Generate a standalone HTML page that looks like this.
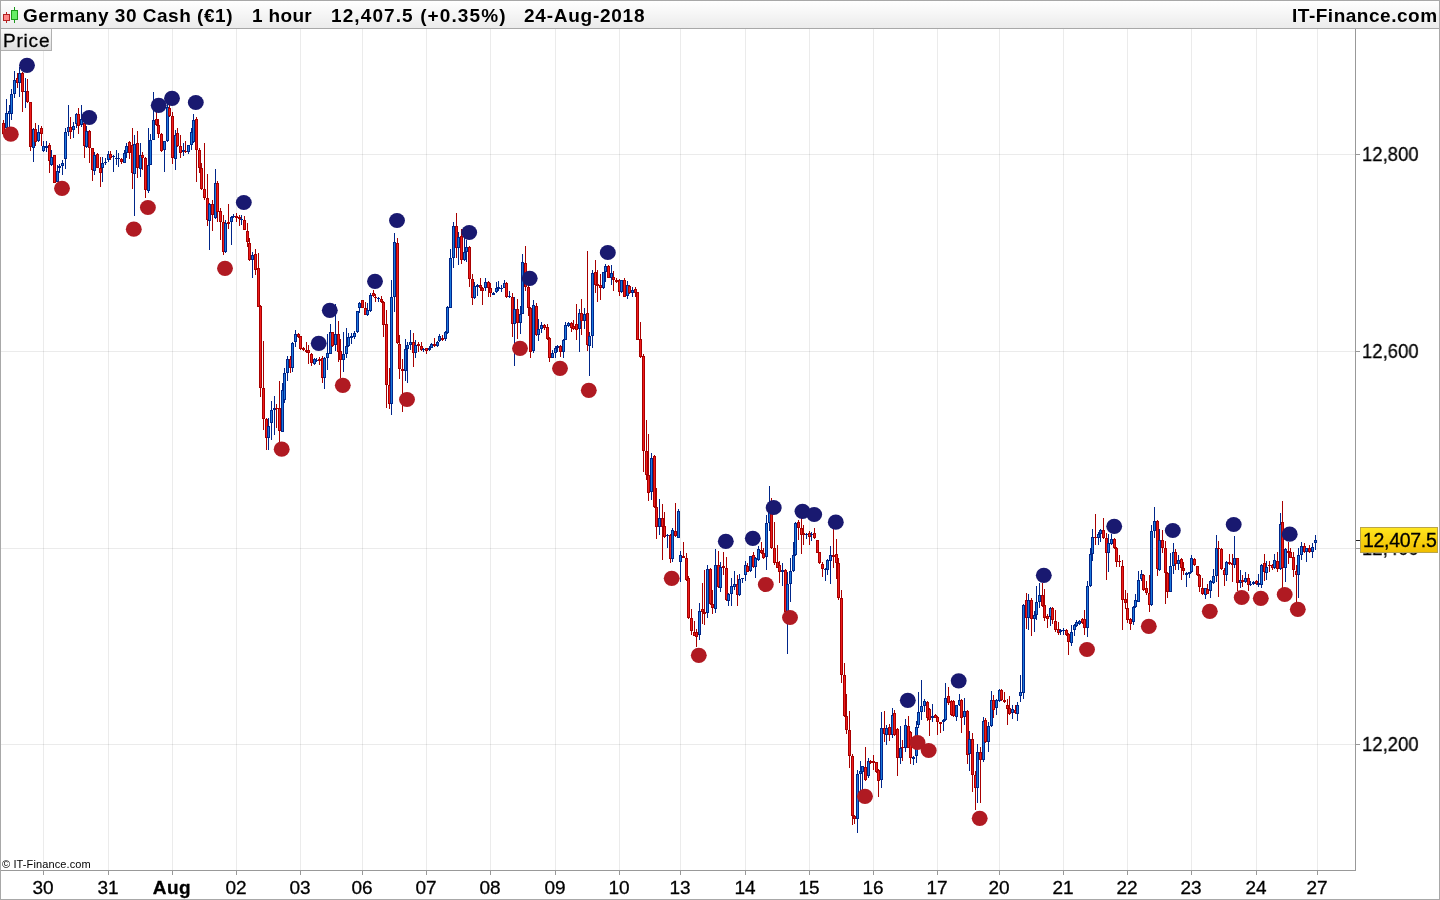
<!DOCTYPE html>
<html><head><meta charset="utf-8"><title>Germany 30 Cash</title>
<style>
html,body{margin:0;padding:0;background:#fff;}
body{width:1440px;height:900px;position:relative;overflow:hidden;font-family:"Liberation Sans","DejaVu Sans",sans-serif;color:#000;}
#frame{position:absolute;left:0;top:0;width:1438px;height:898px;border:1px solid #a8a8a8;pointer-events:none;}
#hdr{position:absolute;left:1px;top:1px;width:1438px;height:27px;background:linear-gradient(#ffffff,#ebebeb);border-bottom:1px solid #a8a8a8;}
#hdr span{will-change:transform;position:absolute;top:4px;font-weight:bold;font-size:19px;line-height:22px;white-space:pre;}
#price{position:absolute;left:1px;top:29px;width:50px;height:21px;background:linear-gradient(#fbfbfb,#dedede);border-right:1px solid #b0b0b0;border-bottom:1px solid #b0b0b0;font-size:19px;line-height:22px;}
#price span{will-change:transform;position:absolute;left:2px;top:1px;letter-spacing:0.8px;-webkit-text-stroke:0.3px #000}
.r{fill:#a80000}.b{fill:#00268a}.R{fill:#ee1c1c}.B{fill:#1c78dc}
.xl{will-change:transform;-webkit-text-stroke:0.3px #000;position:absolute;top:877px;width:60px;text-align:center;font-size:19px;line-height:22px;}
.bold{font-weight:bold;letter-spacing:0.5px}
.yl{will-change:transform;-webkit-text-stroke:0.3px #000;position:absolute;left:1362px;font-size:19.5px;line-height:22px;transform:scaleX(0.95);transform-origin:0 0;}
#cur{position:absolute;left:1360px;top:527px;width:76px;height:24px;border:1px solid #b9a44a;background:linear-gradient(#ffe61e,#f0be00);font-size:19.5px;line-height:24px;}
#cur span{will-change:transform;-webkit-text-stroke:0.3px #000;position:absolute;left:2px;top:0;letter-spacing:-0.3px}
#copy{will-change:transform;position:absolute;left:2px;top:857px;font-size:11px;line-height:14px;letter-spacing:0.12px}
</style></head><body>
<svg width="1440" height="900" viewBox="0 0 1440 900" style="position:absolute;left:0;top:0"><path d="M43.5 29V870M108.5 29V870M172.5 29V870M236.5 29V870M300.5 29V870M362.5 29V870M426.5 29V870M490.5 29V870M555.5 29V870M619.5 29V870M680.5 29V870M745.5 29V870M809.5 29V870M873.5 29V870M937.5 29V870M999.5 29V870M1063.5 29V870M1127.5 29V870M1191.5 29V870M1256.5 29V870M1317.5 29V870" stroke="rgba(0,0,0,0.08)" fill="none"/><path d="M1 154.5H1355M1 351.5H1355M1 548.5H1355M1 744.5H1355" stroke="rgba(0,0,0,0.08)" fill="none"/>
<g shape-rendering="crispEdges"><path class="r" d="M3 120h1v14h-1zM2 123h3v11h-3z"/><path class="R" d="M3 124h1v9h-1z"/><path class="b" d="M6 99h1v29h-1zM5 113h3v15h-3z"/><path class="B" d="M6 114h1v13h-1z"/><path class="b" d="M9 105h1v22h-1zM8 111h3v3h-3z"/><path class="B" d="M9 112h1v1h-1z"/><path class="b" d="M11 89h1v31h-1zM10 94h3v20h-3z"/><path class="B" d="M11 95h1v18h-1z"/><path class="b" d="M14 71h1v27h-1zM13 80h3v14h-3z"/><path class="B" d="M14 81h1v12h-1z"/><path class="r" d="M17 73h1v15h-1zM16 78h3v5h-3z"/><path class="R" d="M17 79h1v3h-1z"/><path class="b" d="M19 67h1v30h-1zM18 73h3v10h-3z"/><path class="B" d="M19 74h1v8h-1z"/><path class="r" d="M22 72h1v40h-1zM21 73h3v19h-3z"/><path class="R" d="M22 74h1v17h-1z"/><path class="b" d="M25 78h1v30h-1zM24 91h3v1h-3z"/><path class="r" d="M27 79h1v24h-1zM26 91h3v11h-3z"/><path class="R" d="M27 92h1v9h-1z"/><path class="r" d="M30 102h1v49h-1zM29 102h3v45h-3z"/><path class="R" d="M30 103h1v43h-1z"/><path class="b" d="M33 128h1v34h-1zM32 129h3v19h-3z"/><path class="B" d="M33 130h1v17h-1z"/><path class="r" d="M35 123h1v23h-1zM34 129h3v13h-3z"/><path class="R" d="M35 130h1v11h-1z"/><path class="b" d="M38 125h1v17h-1zM37 132h3v9h-3z"/><path class="B" d="M38 133h1v7h-1z"/><path class="r" d="M41 126h1v20h-1zM40 128h3v6h-3z"/><path class="R" d="M41 129h1v4h-1z"/><path class="b" d="M43 141h1v11h-1zM42 146h3v5h-3z"/><path class="B" d="M43 147h1v3h-1z"/><path class="b" d="M46 141h1v11h-1zM45 146h3v2h-3z"/><path class="r" d="M49 143h1v30h-1zM48 145h3v16h-3z"/><path class="R" d="M49 146h1v14h-1z"/><path class="b" d="M51 150h1v16h-1zM50 157h3v8h-3z"/><path class="B" d="M51 158h1v6h-1z"/><path class="r" d="M54 155h1v28h-1zM53 155h3v28h-3z"/><path class="R" d="M54 156h1v26h-1z"/><path class="b" d="M57 165h1v17h-1zM56 171h3v11h-3z"/><path class="B" d="M57 172h1v9h-1z"/><path class="b" d="M59 164h1v9h-1zM58 166h3v2h-3z"/><path class="b" d="M62 160h1v15h-1zM61 163h3v3h-3z"/><path class="B" d="M62 164h1v1h-1z"/><path class="b" d="M65 128h1v41h-1zM64 132h3v27h-3z"/><path class="B" d="M65 133h1v25h-1z"/><path class="b" d="M68 105h1v31h-1zM67 127h3v5h-3z"/><path class="B" d="M68 128h1v3h-1z"/><path class="r" d="M70 117h1v22h-1zM69 127h3v5h-3z"/><path class="R" d="M70 128h1v3h-1z"/><path class="b" d="M73 122h1v16h-1zM72 126h3v4h-3z"/><path class="B" d="M73 127h1v2h-1z"/><path class="b" d="M76 113h1v15h-1zM75 114h3v10h-3z"/><path class="B" d="M76 115h1v8h-1z"/><path class="r" d="M78 108h1v26h-1zM77 114h3v12h-3z"/><path class="R" d="M78 115h1v10h-1z"/><path class="b" d="M81 105h1v22h-1zM80 119h3v6h-3z"/><path class="B" d="M81 120h1v4h-1z"/><path class="r" d="M84 122h1v36h-1zM83 123h3v23h-3z"/><path class="R" d="M84 124h1v21h-1z"/><path class="b" d="M86 126h1v22h-1zM85 131h3v16h-3z"/><path class="B" d="M86 132h1v14h-1z"/><path class="r" d="M89 130h1v33h-1zM88 131h3v17h-3z"/><path class="R" d="M89 132h1v15h-1z"/><path class="r" d="M92 148h1v33h-1zM91 148h3v22h-3z"/><path class="R" d="M92 149h1v20h-1z"/><path class="b" d="M94 152h1v23h-1zM93 155h3v16h-3z"/><path class="B" d="M94 156h1v14h-1z"/><path class="r" d="M97 153h1v15h-1zM96 154h3v14h-3z"/><path class="R" d="M97 155h1v12h-1z"/><path class="r" d="M100 157h1v30h-1zM99 168h3v5h-3z"/><path class="R" d="M100 169h1v3h-1z"/><path class="b" d="M102 157h1v25h-1zM101 163h3v5h-3z"/><path class="B" d="M102 164h1v3h-1z"/><path class="b" d="M105 158h1v7h-1zM104 162h3v1h-3z"/><path class="b" d="M108 151h1v11h-1zM107 154h3v6h-3z"/><path class="B" d="M108 155h1v4h-1z"/><path class="r" d="M110 151h1v9h-1zM109 154h3v4h-3z"/><path class="R" d="M110 155h1v2h-1z"/><path class="b" d="M113 155h1v17h-1zM112 156h3v1h-3z"/><path class="b" d="M116 150h1v15h-1zM115 158h3v1h-3z"/><path class="b" d="M118 153h1v14h-1zM117 158h3v1h-3z"/><path class="r" d="M121 158h1v6h-1zM120 159h3v3h-3z"/><path class="R" d="M121 160h1v1h-1z"/><path class="b" d="M124 150h1v13h-1zM123 153h3v10h-3z"/><path class="B" d="M124 154h1v8h-1z"/><path class="b" d="M126 143h1v15h-1zM125 146h3v7h-3z"/><path class="B" d="M126 147h1v5h-1z"/><path class="r" d="M129 141h1v18h-1zM128 142h3v11h-3z"/><path class="R" d="M129 143h1v9h-1z"/><path class="r" d="M132 128h1v61h-1zM131 145h3v28h-3z"/><path class="R" d="M132 146h1v26h-1z"/><path class="b" d="M134 135h1v81h-1zM133 144h3v30h-3z"/><path class="B" d="M134 145h1v28h-1z"/><path class="r" d="M137 131h1v47h-1zM136 143h3v25h-3z"/><path class="R" d="M137 144h1v23h-1z"/><path class="b" d="M140 143h1v34h-1zM139 155h3v14h-3z"/><path class="B" d="M140 156h1v12h-1z"/><path class="r" d="M142 152h1v18h-1zM141 155h3v3h-3z"/><path class="R" d="M142 156h1v1h-1z"/><path class="r" d="M145 157h1v41h-1zM144 158h3v32h-3z"/><path class="R" d="M145 159h1v30h-1z"/><path class="b" d="M148 128h1v65h-1zM147 165h3v26h-3z"/><path class="B" d="M148 166h1v24h-1z"/><path class="b" d="M150 134h1v31h-1zM149 140h3v25h-3z"/><path class="B" d="M150 141h1v23h-1z"/><path class="b" d="M153 92h1v48h-1zM152 120h3v20h-3z"/><path class="B" d="M153 121h1v18h-1z"/><path class="r" d="M156 105h1v21h-1zM155 119h3v6h-3z"/><path class="R" d="M156 120h1v4h-1z"/><path class="r" d="M158 119h1v19h-1zM157 125h3v9h-3z"/><path class="R" d="M158 126h1v7h-1z"/><path class="r" d="M161 133h1v19h-1zM160 134h3v17h-3z"/><path class="R" d="M161 135h1v15h-1z"/><path class="b" d="M164 141h1v31h-1zM163 141h3v9h-3z"/><path class="B" d="M164 142h1v7h-1z"/><path class="b" d="M167 100h1v42h-1zM166 107h3v34h-3z"/><path class="B" d="M167 108h1v32h-1z"/><path class="r" d="M169 105h1v12h-1zM168 108h3v8h-3z"/><path class="R" d="M169 109h1v6h-1z"/><path class="r" d="M172 112h1v52h-1zM171 116h3v42h-3z"/><path class="R" d="M172 117h1v40h-1z"/><path class="b" d="M175 130h1v40h-1zM174 135h3v24h-3z"/><path class="B" d="M175 136h1v22h-1z"/><path class="r" d="M177 128h1v19h-1zM176 133h3v13h-3z"/><path class="R" d="M177 134h1v11h-1z"/><path class="r" d="M180 135h1v23h-1zM179 146h3v7h-3z"/><path class="R" d="M180 147h1v5h-1z"/><path class="b" d="M183 143h1v13h-1zM182 150h3v2h-3z"/><path class="r" d="M185 141h1v12h-1zM184 151h3v1h-3z"/><path class="b" d="M188 145h1v9h-1zM187 145h3v7h-3z"/><path class="B" d="M188 146h1v5h-1z"/><path class="b" d="M191 128h1v22h-1zM190 132h3v13h-3z"/><path class="B" d="M191 133h1v11h-1z"/><path class="b" d="M193 114h1v29h-1zM192 120h3v22h-3z"/><path class="B" d="M193 121h1v20h-1z"/><path class="r" d="M196 117h1v65h-1zM195 119h3v31h-3z"/><path class="R" d="M196 120h1v29h-1z"/><path class="r" d="M199 148h1v25h-1zM198 150h3v18h-3z"/><path class="R" d="M199 151h1v16h-1z"/><path class="r" d="M201 163h1v27h-1zM200 168h3v21h-3z"/><path class="R" d="M201 169h1v19h-1z"/><path class="r" d="M204 143h1v57h-1zM203 189h3v9h-3z"/><path class="R" d="M204 190h1v7h-1z"/><path class="r" d="M207 174h1v52h-1zM206 198h3v22h-3z"/><path class="R" d="M207 199h1v20h-1z"/><path class="b" d="M209 203h1v47h-1zM208 204h3v17h-3z"/><path class="B" d="M209 205h1v15h-1z"/><path class="r" d="M212 200h1v31h-1zM211 204h3v11h-3z"/><path class="R" d="M212 205h1v9h-1z"/><path class="b" d="M215 169h1v50h-1zM214 183h3v35h-3z"/><path class="B" d="M215 184h1v33h-1z"/><path class="r" d="M217 181h1v41h-1zM216 183h3v29h-3z"/><path class="R" d="M217 184h1v27h-1z"/><path class="r" d="M220 208h1v32h-1zM219 211h3v11h-3z"/><path class="R" d="M220 212h1v9h-1z"/><path class="r" d="M223 215h1v40h-1zM222 222h3v30h-3z"/><path class="R" d="M223 223h1v28h-1z"/><path class="b" d="M225 220h1v33h-1zM224 223h3v29h-3z"/><path class="B" d="M225 224h1v27h-1z"/><path class="r" d="M228 204h1v25h-1zM227 222h3v2h-3z"/><path class="b" d="M231 216h1v29h-1zM230 217h3v5h-3z"/><path class="B" d="M231 218h1v3h-1z"/><path class="b" d="M233 214h1v4h-1zM232 216h3v1h-3z"/><path class="r" d="M236 213h1v9h-1zM235 216h3v2h-3z"/><path class="r" d="M239 215h1v11h-1zM238 217h3v2h-3z"/><path class="b" d="M241 215h1v10h-1zM240 219h3v1h-3z"/><path class="r" d="M244 216h1v14h-1zM243 220h3v10h-3z"/><path class="R" d="M244 221h1v8h-1z"/><path class="r" d="M247 223h1v24h-1zM246 231h3v11h-3z"/><path class="R" d="M247 232h1v9h-1z"/><path class="r" d="M249 238h1v23h-1zM248 243h3v17h-3z"/><path class="R" d="M249 244h1v15h-1z"/><path class="b" d="M252 252h1v26h-1zM251 255h3v5h-3z"/><path class="B" d="M252 256h1v3h-1z"/><path class="r" d="M255 249h1v26h-1zM254 254h3v16h-3z"/><path class="R" d="M255 255h1v14h-1z"/><path class="r" d="M258 253h1v54h-1zM257 268h3v39h-3z"/><path class="R" d="M258 269h1v37h-1z"/><path class="r" d="M260 305h1v92h-1zM259 306h3v82h-3z"/><path class="R" d="M260 307h1v80h-1z"/><path class="r" d="M263 341h1v89h-1zM262 388h3v31h-3z"/><path class="R" d="M263 389h1v29h-1z"/><path class="r" d="M266 418h1v32h-1zM265 419h3v19h-3z"/><path class="R" d="M266 420h1v17h-1z"/><path class="b" d="M268 418h1v32h-1zM267 426h3v12h-3z"/><path class="B" d="M268 427h1v10h-1z"/><path class="b" d="M271 401h1v39h-1zM270 410h3v13h-3z"/><path class="B" d="M271 411h1v11h-1z"/><path class="b" d="M274 396h1v39h-1zM273 408h3v2h-3z"/><path class="r" d="M276 404h1v24h-1zM275 408h3v1h-3z"/><path class="r" d="M279 381h1v61h-1zM278 408h3v23h-3z"/><path class="R" d="M279 409h1v21h-1z"/><path class="b" d="M282 383h1v49h-1zM281 390h3v42h-3z"/><path class="B" d="M282 391h1v40h-1z"/><path class="b" d="M284 368h1v35h-1zM283 373h3v27h-3z"/><path class="B" d="M284 374h1v25h-1z"/><path class="b" d="M287 356h1v25h-1zM286 359h3v14h-3z"/><path class="B" d="M287 360h1v12h-1z"/><path class="r" d="M290 356h1v17h-1zM289 359h3v9h-3z"/><path class="R" d="M290 360h1v7h-1z"/><path class="b" d="M292 342h1v30h-1zM291 343h3v25h-3z"/><path class="B" d="M292 344h1v23h-1z"/><path class="b" d="M295 330h1v17h-1zM294 334h3v8h-3z"/><path class="B" d="M295 335h1v6h-1z"/><path class="r" d="M298 333h1v5h-1zM297 334h3v3h-3z"/><path class="R" d="M298 335h1v1h-1z"/><path class="r" d="M300 336h1v14h-1zM299 336h3v13h-3z"/><path class="R" d="M300 337h1v11h-1z"/><path class="r" d="M303 347h1v4h-1zM302 348h3v2h-3z"/><path class="r" d="M306 342h1v11h-1zM305 350h3v2h-3z"/><path class="r" d="M308 345h1v19h-1zM307 350h3v3h-3z"/><path class="R" d="M308 351h1v1h-1z"/><path class="r" d="M311 353h1v13h-1zM310 354h3v9h-3z"/><path class="R" d="M311 355h1v7h-1z"/><path class="b" d="M314 358h1v7h-1zM313 359h3v5h-3z"/><path class="B" d="M314 360h1v3h-1z"/><path class="b" d="M316 358h1v4h-1zM315 360h3v1h-3z"/><path class="r" d="M319 357h1v8h-1zM318 359h3v2h-3z"/><path class="r" d="M322 356h1v27h-1zM321 358h3v20h-3z"/><path class="R" d="M322 359h1v18h-1z"/><path class="b" d="M324 357h1v32h-1zM323 358h3v20h-3z"/><path class="B" d="M324 359h1v18h-1z"/><path class="b" d="M327 334h1v36h-1zM326 353h3v5h-3z"/><path class="B" d="M327 354h1v3h-1z"/><path class="b" d="M330 324h1v30h-1zM329 332h3v22h-3z"/><path class="B" d="M330 333h1v20h-1z"/><path class="r" d="M332 332h1v15h-1zM331 332h3v14h-3z"/><path class="R" d="M332 333h1v12h-1z"/><path class="b" d="M335 304h1v47h-1zM334 334h3v11h-3z"/><path class="B" d="M335 335h1v9h-1z"/><path class="r" d="M338 321h1v41h-1zM337 334h3v18h-3z"/><path class="R" d="M338 335h1v16h-1z"/><path class="r" d="M340 339h1v39h-1zM339 351h3v9h-3z"/><path class="R" d="M340 352h1v7h-1z"/><path class="b" d="M343 332h1v40h-1zM342 354h3v6h-3z"/><path class="B" d="M343 355h1v4h-1z"/><path class="b" d="M346 328h1v30h-1zM345 346h3v8h-3z"/><path class="B" d="M346 347h1v6h-1z"/><path class="b" d="M348 333h1v14h-1zM347 337h3v9h-3z"/><path class="B" d="M348 338h1v7h-1z"/><path class="b" d="M351 333h1v11h-1zM350 336h3v2h-3z"/><path class="b" d="M354 331h1v8h-1zM353 333h3v4h-3z"/><path class="B" d="M354 334h1v2h-1z"/><path class="b" d="M357 311h1v22h-1zM356 311h3v21h-3z"/><path class="B" d="M357 312h1v19h-1z"/><path class="b" d="M359 302h1v11h-1zM358 303h3v5h-3z"/><path class="B" d="M359 304h1v3h-1z"/><path class="r" d="M362 300h1v8h-1zM361 300h3v8h-3z"/><path class="R" d="M362 301h1v6h-1z"/><path class="r" d="M365 302h1v13h-1zM364 308h3v7h-3z"/><path class="R" d="M365 309h1v5h-1z"/><path class="b" d="M367 303h1v13h-1zM366 310h3v5h-3z"/><path class="B" d="M367 311h1v3h-1z"/><path class="b" d="M370 293h1v19h-1zM369 295h3v16h-3z"/><path class="B" d="M370 296h1v14h-1z"/><path class="r" d="M373 290h1v7h-1zM372 293h3v3h-3z"/><path class="R" d="M373 294h1v1h-1z"/><path class="r" d="M375 294h1v8h-1zM374 297h3v1h-3z"/><path class="b" d="M378 297h1v5h-1zM377 298h3v1h-3z"/><path class="r" d="M381 296h1v7h-1zM380 299h3v3h-3z"/><path class="R" d="M381 300h1v1h-1z"/><path class="r" d="M383 301h1v36h-1zM382 302h3v23h-3z"/><path class="R" d="M383 303h1v21h-1z"/><path class="r" d="M386 310h1v98h-1zM385 324h3v61h-3z"/><path class="R" d="M386 325h1v59h-1z"/><path class="r" d="M389 368h1v41h-1zM388 385h3v19h-3z"/><path class="R" d="M389 386h1v17h-1z"/><path class="b" d="M391 280h1v135h-1zM390 297h3v107h-3z"/><path class="B" d="M391 298h1v105h-1z"/><path class="b" d="M394 233h1v79h-1zM393 242h3v55h-3z"/><path class="B" d="M394 243h1v53h-1z"/><path class="r" d="M397 238h1v106h-1zM396 243h3v100h-3z"/><path class="R" d="M397 244h1v98h-1z"/><path class="r" d="M399 335h1v44h-1zM398 344h3v25h-3z"/><path class="R" d="M399 345h1v23h-1z"/><path class="r" d="M402 359h1v53h-1zM401 369h3v2h-3z"/><path class="b" d="M405 339h1v42h-1zM404 349h3v22h-3z"/><path class="B" d="M405 350h1v20h-1z"/><path class="b" d="M407 342h1v41h-1zM406 345h3v4h-3z"/><path class="B" d="M407 346h1v2h-1z"/><path class="b" d="M410 330h1v20h-1zM409 342h3v3h-3z"/><path class="B" d="M410 343h1v1h-1z"/><path class="r" d="M413 333h1v34h-1zM412 342h3v11h-3z"/><path class="R" d="M413 343h1v9h-1z"/><path class="b" d="M415 340h1v18h-1zM414 345h3v8h-3z"/><path class="B" d="M415 346h1v6h-1z"/><path class="r" d="M418 342h1v10h-1zM417 344h3v2h-3z"/><path class="r" d="M421 342h1v9h-1zM420 346h3v4h-3z"/><path class="R" d="M421 347h1v2h-1z"/><path class="b" d="M423 348h1v4h-1zM422 349h3v1h-3z"/><path class="r" d="M426 348h1v6h-1zM425 348h3v3h-3z"/><path class="R" d="M426 349h1v1h-1z"/><path class="b" d="M429 346h1v5h-1zM428 348h3v2h-3z"/><path class="b" d="M431 343h1v5h-1zM430 344h3v4h-3z"/><path class="B" d="M431 345h1v2h-1z"/><path class="r" d="M434 338h1v9h-1zM433 344h3v2h-3z"/><path class="b" d="M437 341h1v6h-1zM436 342h3v4h-3z"/><path class="B" d="M437 343h1v2h-1z"/><path class="b" d="M439 334h1v8h-1zM438 336h3v5h-3z"/><path class="B" d="M439 337h1v3h-1z"/><path class="r" d="M442 335h1v6h-1zM441 338h3v2h-3z"/><path class="b" d="M445 331h1v10h-1zM444 332h3v7h-3z"/><path class="B" d="M445 333h1v5h-1z"/><path class="b" d="M447 306h1v28h-1zM446 307h3v26h-3z"/><path class="B" d="M447 308h1v24h-1z"/><path class="b" d="M450 249h1v59h-1zM449 258h3v50h-3z"/><path class="B" d="M450 259h1v48h-1z"/><path class="b" d="M453 222h1v46h-1zM452 226h3v32h-3z"/><path class="B" d="M453 227h1v30h-1z"/><path class="r" d="M456 213h1v45h-1zM455 226h3v22h-3z"/><path class="R" d="M456 227h1v20h-1z"/><path class="b" d="M458 232h1v33h-1zM457 237h3v11h-3z"/><path class="B" d="M458 238h1v9h-1z"/><path class="r" d="M461 229h1v35h-1zM460 236h3v24h-3z"/><path class="R" d="M461 237h1v22h-1z"/><path class="b" d="M464 238h1v23h-1zM463 252h3v8h-3z"/><path class="B" d="M464 253h1v6h-1z"/><path class="b" d="M466 240h1v22h-1zM465 247h3v5h-3z"/><path class="B" d="M466 248h1v3h-1z"/><path class="r" d="M469 246h1v41h-1zM468 247h3v32h-3z"/><path class="R" d="M469 248h1v30h-1z"/><path class="r" d="M472 274h1v31h-1zM471 279h3v19h-3z"/><path class="R" d="M472 280h1v17h-1z"/><path class="b" d="M474 282h1v17h-1zM473 286h3v12h-3z"/><path class="B" d="M474 287h1v10h-1z"/><path class="b" d="M477 284h1v12h-1zM476 285h3v2h-3z"/><path class="r" d="M480 278h1v13h-1zM479 285h3v3h-3z"/><path class="R" d="M480 286h1v1h-1z"/><path class="r" d="M482 287h1v18h-1zM481 288h3v3h-3z"/><path class="R" d="M482 289h1v1h-1z"/><path class="b" d="M485 278h1v13h-1zM484 282h3v6h-3z"/><path class="B" d="M485 283h1v4h-1z"/><path class="r" d="M488 281h1v16h-1zM487 282h3v6h-3z"/><path class="R" d="M488 283h1v4h-1z"/><path class="r" d="M490 283h1v14h-1zM489 288h3v5h-3z"/><path class="R" d="M490 289h1v3h-1z"/><path class="b" d="M493 292h1v3h-1zM492 293h3v2h-3z"/><path class="b" d="M496 282h1v11h-1zM495 288h3v4h-3z"/><path class="B" d="M496 289h1v2h-1z"/><path class="b" d="M498 281h1v10h-1zM497 287h3v2h-3z"/><path class="b" d="M501 285h1v7h-1zM500 288h3v1h-3z"/><path class="b" d="M504 280h1v8h-1zM503 283h3v5h-3z"/><path class="B" d="M504 284h1v3h-1z"/><path class="r" d="M506 282h1v16h-1zM505 283h3v14h-3z"/><path class="R" d="M506 284h1v12h-1z"/><path class="b" d="M509 291h1v7h-1zM508 296h3v1h-3z"/><path class="r" d="M512 293h1v44h-1zM511 297h3v27h-3z"/><path class="R" d="M512 298h1v25h-1z"/><path class="b" d="M514 297h1v69h-1zM513 309h3v15h-3z"/><path class="B" d="M514 310h1v13h-1z"/><path class="r" d="M517 299h1v40h-1zM516 309h3v14h-3z"/><path class="R" d="M517 310h1v12h-1z"/><path class="b" d="M520 306h1v28h-1zM519 314h3v9h-3z"/><path class="B" d="M520 315h1v7h-1z"/><path class="b" d="M522 254h1v60h-1zM521 262h3v52h-3z"/><path class="B" d="M522 263h1v50h-1z"/><path class="r" d="M525 246h1v45h-1zM524 263h3v24h-3z"/><path class="R" d="M525 264h1v22h-1z"/><path class="r" d="M528 285h1v31h-1zM527 287h3v21h-3z"/><path class="R" d="M528 288h1v19h-1z"/><path class="r" d="M530 307h1v51h-1zM529 308h3v44h-3z"/><path class="R" d="M530 309h1v42h-1z"/><path class="b" d="M533 300h1v53h-1zM532 305h3v46h-3z"/><path class="B" d="M533 306h1v44h-1z"/><path class="r" d="M536 303h1v33h-1zM535 306h3v29h-3z"/><path class="R" d="M536 307h1v27h-1z"/><path class="b" d="M538 319h1v22h-1zM537 329h3v6h-3z"/><path class="B" d="M538 330h1v4h-1z"/><path class="b" d="M541 322h1v11h-1zM540 325h3v4h-3z"/><path class="B" d="M541 326h1v2h-1z"/><path class="r" d="M544 324h1v6h-1zM543 325h3v3h-3z"/><path class="R" d="M544 326h1v1h-1z"/><path class="r" d="M547 324h1v16h-1zM546 327h3v12h-3z"/><path class="R" d="M547 328h1v10h-1z"/><path class="r" d="M549 337h1v25h-1zM548 338h3v20h-3z"/><path class="R" d="M549 339h1v18h-1z"/><path class="b" d="M552 350h1v8h-1zM551 353h3v5h-3z"/><path class="B" d="M552 354h1v3h-1z"/><path class="b" d="M555 346h1v12h-1zM554 348h3v5h-3z"/><path class="B" d="M555 349h1v3h-1z"/><path class="b" d="M557 345h1v7h-1zM556 346h3v2h-3z"/><path class="r" d="M560 345h1v12h-1zM559 346h3v6h-3z"/><path class="R" d="M560 347h1v4h-1z"/><path class="b" d="M563 339h1v19h-1zM562 340h3v12h-3z"/><path class="B" d="M563 341h1v10h-1z"/><path class="b" d="M565 322h1v18h-1zM564 325h3v15h-3z"/><path class="B" d="M565 326h1v13h-1z"/><path class="b" d="M568 322h1v5h-1zM567 323h3v3h-3z"/><path class="B" d="M568 324h1v1h-1z"/><path class="r" d="M571 322h1v10h-1zM570 323h3v5h-3z"/><path class="R" d="M571 324h1v3h-1z"/><path class="r" d="M573 320h1v10h-1zM572 326h3v3h-3z"/><path class="R" d="M573 327h1v1h-1z"/><path class="r" d="M576 304h1v36h-1zM575 324h3v6h-3z"/><path class="R" d="M576 325h1v4h-1z"/><path class="b" d="M579 309h1v43h-1zM578 313h3v16h-3z"/><path class="B" d="M579 314h1v14h-1z"/><path class="r" d="M581 299h1v36h-1zM580 313h3v8h-3z"/><path class="R" d="M581 314h1v6h-1z"/><path class="b" d="M584 308h1v21h-1zM583 314h3v7h-3z"/><path class="B" d="M584 315h1v5h-1z"/><path class="r" d="M587 251h1v100h-1zM586 313h3v32h-3z"/><path class="R" d="M587 314h1v30h-1z"/><path class="b" d="M589 332h1v44h-1zM588 336h3v10h-3z"/><path class="B" d="M589 337h1v8h-1z"/><path class="b" d="M592 270h1v78h-1zM591 273h3v63h-3z"/><path class="B" d="M592 274h1v61h-1z"/><path class="r" d="M595 260h1v33h-1zM594 272h3v13h-3z"/><path class="R" d="M595 273h1v11h-1z"/><path class="r" d="M597 270h1v32h-1zM596 284h3v2h-3z"/><path class="r" d="M600 274h1v26h-1zM599 285h3v3h-3z"/><path class="R" d="M600 286h1v1h-1z"/><path class="b" d="M603 272h1v17h-1zM602 272h3v16h-3z"/><path class="B" d="M603 273h1v14h-1z"/><path class="b" d="M605 264h1v18h-1zM604 266h3v6h-3z"/><path class="B" d="M605 267h1v4h-1z"/><path class="r" d="M608 265h1v13h-1zM607 266h3v12h-3z"/><path class="R" d="M608 267h1v10h-1z"/><path class="b" d="M611 265h1v20h-1zM610 273h3v5h-3z"/><path class="B" d="M611 274h1v3h-1z"/><path class="r" d="M613 271h1v20h-1zM612 277h3v3h-3z"/><path class="R" d="M613 278h1v1h-1z"/><path class="r" d="M616 278h1v5h-1zM615 280h3v2h-3z"/><path class="r" d="M619 279h1v17h-1zM618 280h3v12h-3z"/><path class="R" d="M619 281h1v10h-1z"/><path class="b" d="M621 280h1v13h-1zM620 280h3v12h-3z"/><path class="B" d="M621 281h1v10h-1z"/><path class="r" d="M624 278h1v19h-1zM623 280h3v17h-3z"/><path class="R" d="M624 281h1v15h-1z"/><path class="b" d="M627 281h1v18h-1zM626 285h3v11h-3z"/><path class="B" d="M627 286h1v9h-1z"/><path class="r" d="M629 285h1v9h-1zM628 286h3v7h-3z"/><path class="R" d="M629 287h1v5h-1z"/><path class="b" d="M632 287h1v10h-1zM631 290h3v3h-3z"/><path class="B" d="M632 291h1v1h-1z"/><path class="r" d="M635 287h1v10h-1zM634 289h3v4h-3z"/><path class="R" d="M635 290h1v2h-1z"/><path class="r" d="M637 292h1v48h-1zM636 292h3v48h-3z"/><path class="R" d="M637 293h1v46h-1z"/><path class="r" d="M640 322h1v36h-1zM639 339h3v18h-3z"/><path class="R" d="M640 340h1v16h-1z"/><path class="r" d="M643 354h1v118h-1zM642 356h3v95h-3z"/><path class="R" d="M643 357h1v93h-1z"/><path class="r" d="M646 420h1v60h-1zM645 451h3v24h-3z"/><path class="R" d="M646 452h1v22h-1z"/><path class="r" d="M648 434h1v67h-1zM647 475h3v18h-3z"/><path class="R" d="M648 476h1v16h-1z"/><path class="b" d="M651 453h1v47h-1zM650 458h3v34h-3z"/><path class="B" d="M651 459h1v32h-1z"/><path class="r" d="M654 455h1v53h-1zM653 456h3v51h-3z"/><path class="R" d="M654 457h1v49h-1z"/><path class="r" d="M656 488h1v51h-1zM655 507h3v20h-3z"/><path class="R" d="M656 508h1v18h-1z"/><path class="b" d="M659 499h1v36h-1zM658 518h3v9h-3z"/><path class="B" d="M659 519h1v7h-1z"/><path class="r" d="M662 504h1v56h-1zM661 518h3v9h-3z"/><path class="R" d="M662 519h1v7h-1z"/><path class="r" d="M664 512h1v26h-1zM663 526h3v11h-3z"/><path class="R" d="M664 527h1v9h-1z"/><path class="b" d="M667 534h1v14h-1zM666 535h3v1h-3z"/><path class="r" d="M670 534h1v29h-1zM669 535h3v24h-3z"/><path class="R" d="M670 536h1v22h-1z"/><path class="b" d="M672 528h1v34h-1zM671 530h3v29h-3z"/><path class="B" d="M672 531h1v27h-1z"/><path class="r" d="M675 503h1v34h-1zM674 531h3v5h-3z"/><path class="R" d="M675 532h1v3h-1z"/><path class="b" d="M678 509h1v29h-1zM677 511h3v27h-3z"/><path class="B" d="M678 512h1v25h-1z"/><path class="b" d="M680 551h1v31h-1zM679 555h3v7h-3z"/><path class="B" d="M680 556h1v5h-1z"/><path class="r" d="M683 542h1v16h-1zM682 556h3v2h-3z"/><path class="r" d="M686 553h1v28h-1zM685 558h3v22h-3z"/><path class="R" d="M686 559h1v20h-1z"/><path class="r" d="M688 576h1v43h-1zM687 578h3v40h-3z"/><path class="R" d="M688 579h1v38h-1z"/><path class="r" d="M691 609h1v26h-1zM690 618h3v13h-3z"/><path class="R" d="M691 619h1v11h-1z"/><path class="r" d="M694 621h1v15h-1zM693 632h3v4h-3z"/><path class="R" d="M694 633h1v2h-1z"/><path class="r" d="M696 629h1v18h-1zM695 632h3v5h-3z"/><path class="R" d="M696 633h1v3h-1z"/><path class="b" d="M699 603h1v37h-1zM698 611h3v24h-3z"/><path class="B" d="M699 612h1v22h-1z"/><path class="r" d="M702 583h1v41h-1zM701 609h3v3h-3z"/><path class="R" d="M702 610h1v1h-1z"/><path class="r" d="M704 570h1v55h-1zM703 612h3v2h-3z"/><path class="b" d="M707 565h1v53h-1zM706 569h3v44h-3z"/><path class="B" d="M707 570h1v42h-1z"/><path class="r" d="M710 568h1v37h-1zM709 569h3v35h-3z"/><path class="R" d="M710 570h1v33h-1z"/><path class="r" d="M712 590h1v24h-1zM711 604h3v4h-3z"/><path class="R" d="M712 605h1v2h-1z"/><path class="b" d="M715 549h1v64h-1zM714 565h3v44h-3z"/><path class="B" d="M715 566h1v42h-1z"/><path class="r" d="M718 551h1v37h-1zM717 565h3v22h-3z"/><path class="R" d="M718 566h1v20h-1z"/><path class="b" d="M720 562h1v30h-1zM719 567h3v21h-3z"/><path class="B" d="M720 568h1v19h-1z"/><path class="r" d="M723 552h1v23h-1zM722 566h3v2h-3z"/><path class="r" d="M726 557h1v44h-1zM725 568h3v32h-3z"/><path class="R" d="M726 569h1v30h-1z"/><path class="b" d="M728 593h1v13h-1zM727 594h3v7h-3z"/><path class="B" d="M728 595h1v5h-1z"/><path class="b" d="M731 578h1v28h-1zM730 586h3v8h-3z"/><path class="B" d="M731 587h1v6h-1z"/><path class="b" d="M734 571h1v19h-1zM733 584h3v3h-3z"/><path class="B" d="M734 585h1v1h-1z"/><path class="r" d="M737 575h1v31h-1zM736 584h3v11h-3z"/><path class="R" d="M737 585h1v9h-1z"/><path class="b" d="M739 574h1v22h-1zM738 579h3v16h-3z"/><path class="B" d="M739 580h1v14h-1z"/><path class="b" d="M742 578h1v5h-1zM741 578h3v1h-3z"/><path class="b" d="M745 561h1v20h-1zM744 565h3v10h-3z"/><path class="B" d="M745 566h1v8h-1z"/><path class="r" d="M747 563h1v9h-1zM746 566h3v6h-3z"/><path class="R" d="M747 567h1v4h-1z"/><path class="b" d="M750 556h1v16h-1zM749 556h3v15h-3z"/><path class="B" d="M750 557h1v13h-1z"/><path class="r" d="M753 552h1v16h-1zM752 555h3v12h-3z"/><path class="R" d="M753 556h1v10h-1z"/><path class="b" d="M755 557h1v21h-1zM754 558h3v9h-3z"/><path class="B" d="M755 559h1v7h-1z"/><path class="b" d="M758 546h1v15h-1zM757 549h3v11h-3z"/><path class="B" d="M758 550h1v9h-1z"/><path class="r" d="M761 542h1v12h-1zM760 550h3v3h-3z"/><path class="R" d="M761 551h1v1h-1z"/><path class="r" d="M763 548h1v11h-1zM762 553h3v5h-3z"/><path class="R" d="M763 554h1v3h-1z"/><path class="b" d="M766 515h1v55h-1zM765 523h3v34h-3z"/><path class="B" d="M766 524h1v32h-1z"/><path class="b" d="M769 486h1v45h-1zM768 512h3v11h-3z"/><path class="B" d="M769 513h1v9h-1z"/><path class="r" d="M771 498h1v51h-1zM770 513h3v35h-3z"/><path class="R" d="M771 514h1v33h-1z"/><path class="r" d="M774 522h1v43h-1zM773 548h3v15h-3z"/><path class="R" d="M774 549h1v13h-1z"/><path class="r" d="M777 545h1v23h-1zM776 562h3v6h-3z"/><path class="R" d="M777 563h1v4h-1z"/><path class="r" d="M779 561h1v22h-1zM778 565h3v7h-3z"/><path class="R" d="M779 566h1v5h-1z"/><path class="b" d="M782 563h1v23h-1zM781 570h3v2h-3z"/><path class="r" d="M785 569h1v43h-1zM784 570h3v42h-3z"/><path class="R" d="M785 571h1v40h-1z"/><path class="b" d="M787 572h1v82h-1zM786 584h3v28h-3z"/><path class="B" d="M787 585h1v26h-1z"/><path class="b" d="M790 558h1v44h-1zM789 571h3v13h-3z"/><path class="B" d="M790 572h1v11h-1z"/><path class="b" d="M793 542h1v30h-1zM792 555h3v16h-3z"/><path class="B" d="M793 556h1v14h-1z"/><path class="b" d="M795 522h1v34h-1zM794 523h3v32h-3z"/><path class="B" d="M795 524h1v30h-1z"/><path class="r" d="M798 520h1v20h-1zM797 522h3v6h-3z"/><path class="R" d="M798 523h1v4h-1z"/><path class="r" d="M801 518h1v36h-1zM800 528h3v7h-3z"/><path class="R" d="M801 529h1v5h-1z"/><path class="r" d="M803 525h1v20h-1zM802 533h3v2h-3z"/><path class="b" d="M806 533h1v6h-1zM805 534h3v1h-3z"/><path class="r" d="M809 531h1v14h-1zM808 533h3v4h-3z"/><path class="R" d="M809 534h1v2h-1z"/><path class="b" d="M811 532h1v9h-1zM810 534h3v1h-3z"/><path class="r" d="M814 528h1v11h-1zM813 533h3v5h-3z"/><path class="R" d="M814 534h1v3h-1z"/><path class="r" d="M817 540h1v13h-1zM816 540h3v13h-3z"/><path class="R" d="M817 541h1v11h-1z"/><path class="r" d="M819 552h1v12h-1zM818 552h3v11h-3z"/><path class="R" d="M819 553h1v9h-1z"/><path class="r" d="M822 562h1v15h-1zM821 564h3v5h-3z"/><path class="R" d="M822 565h1v3h-1z"/><path class="b" d="M825 568h1v13h-1zM824 569h3v1h-3z"/><path class="b" d="M827 559h1v16h-1zM826 560h3v10h-3z"/><path class="B" d="M827 561h1v8h-1z"/><path class="b" d="M830 546h1v38h-1zM829 555h3v6h-3z"/><path class="B" d="M830 556h1v4h-1z"/><path class="r" d="M833 528h1v40h-1zM832 555h3v2h-3z"/><path class="r" d="M836 539h1v40h-1zM835 554h3v9h-3z"/><path class="R" d="M836 555h1v7h-1z"/><path class="r" d="M838 558h1v42h-1zM837 563h3v35h-3z"/><path class="R" d="M838 564h1v33h-1z"/><path class="r" d="M841 590h1v93h-1zM840 598h3v77h-3z"/><path class="R" d="M841 599h1v75h-1z"/><path class="r" d="M844 663h1v54h-1zM843 675h3v41h-3z"/><path class="R" d="M844 676h1v39h-1z"/><path class="r" d="M846 694h1v40h-1zM845 716h3v14h-3z"/><path class="R" d="M846 717h1v12h-1z"/><path class="r" d="M849 711h1v57h-1zM848 730h3v26h-3z"/><path class="R" d="M849 731h1v24h-1z"/><path class="r" d="M852 754h1v71h-1zM851 756h3v60h-3z"/><path class="R" d="M852 757h1v58h-1z"/><path class="r" d="M854 815h1v9h-1zM853 816h3v3h-3z"/><path class="R" d="M854 817h1v1h-1z"/><path class="b" d="M857 770h1v63h-1zM856 774h3v45h-3z"/><path class="B" d="M857 775h1v43h-1z"/><path class="b" d="M860 761h1v34h-1zM859 771h3v3h-3z"/><path class="B" d="M860 772h1v1h-1z"/><path class="b" d="M862 766h1v24h-1zM861 766h3v6h-3z"/><path class="B" d="M862 767h1v4h-1z"/><path class="r" d="M865 747h1v34h-1zM864 767h3v13h-3z"/><path class="R" d="M865 768h1v11h-1z"/><path class="b" d="M868 758h1v20h-1zM867 761h3v15h-3z"/><path class="B" d="M868 762h1v13h-1z"/><path class="r" d="M870 760h1v4h-1zM869 761h3v2h-3z"/><path class="r" d="M873 755h1v15h-1zM872 761h3v2h-3z"/><path class="r" d="M876 762h1v11h-1zM875 762h3v10h-3z"/><path class="R" d="M876 763h1v8h-1z"/><path class="r" d="M878 769h1v28h-1zM877 770h3v11h-3z"/><path class="R" d="M878 771h1v9h-1z"/><path class="b" d="M881 712h1v76h-1zM880 728h3v52h-3z"/><path class="B" d="M881 729h1v50h-1z"/><path class="r" d="M884 711h1v31h-1zM883 728h3v6h-3z"/><path class="R" d="M884 729h1v4h-1z"/><path class="b" d="M886 725h1v20h-1zM885 728h3v7h-3z"/><path class="B" d="M886 729h1v5h-1z"/><path class="r" d="M889 724h1v17h-1zM888 727h3v8h-3z"/><path class="R" d="M889 728h1v6h-1z"/><path class="b" d="M892 708h1v30h-1zM891 715h3v20h-3z"/><path class="B" d="M892 716h1v18h-1z"/><path class="r" d="M894 710h1v26h-1zM893 713h3v22h-3z"/><path class="R" d="M894 714h1v20h-1z"/><path class="r" d="M897 728h1v48h-1zM896 729h3v29h-3z"/><path class="R" d="M897 730h1v27h-1z"/><path class="b" d="M900 726h1v38h-1zM899 748h3v10h-3z"/><path class="B" d="M900 749h1v8h-1z"/><path class="r" d="M902 740h1v21h-1zM901 747h3v1h-3z"/><path class="b" d="M905 719h1v33h-1zM904 725h3v23h-3z"/><path class="B" d="M905 726h1v21h-1z"/><path class="r" d="M908 716h1v32h-1zM907 726h3v22h-3z"/><path class="R" d="M908 727h1v20h-1z"/><path class="r" d="M910 731h1v33h-1zM909 732h3v26h-3z"/><path class="R" d="M910 733h1v24h-1z"/><path class="b" d="M913 756h1v9h-1zM912 757h3v2h-3z"/><path class="b" d="M916 721h1v42h-1zM915 727h3v29h-3z"/><path class="B" d="M916 728h1v27h-1z"/><path class="b" d="M918 692h1v36h-1zM917 712h3v13h-3z"/><path class="B" d="M918 713h1v11h-1z"/><path class="b" d="M921 680h1v40h-1zM920 706h3v6h-3z"/><path class="B" d="M921 707h1v4h-1z"/><path class="b" d="M924 699h1v13h-1zM923 701h3v5h-3z"/><path class="B" d="M924 702h1v3h-1z"/><path class="r" d="M927 701h1v20h-1zM926 702h3v16h-3z"/><path class="R" d="M927 703h1v14h-1z"/><path class="r" d="M929 708h1v28h-1zM928 709h3v11h-3z"/><path class="R" d="M929 710h1v9h-1z"/><path class="b" d="M932 704h1v18h-1zM931 716h3v2h-3z"/><path class="r" d="M935 714h1v4h-1zM934 715h3v3h-3z"/><path class="R" d="M935 716h1v1h-1z"/><path class="r" d="M937 716h1v19h-1zM936 717h3v5h-3z"/><path class="R" d="M937 718h1v3h-1z"/><path class="r" d="M940 722h1v11h-1zM939 722h3v2h-3z"/><path class="b" d="M943 719h1v12h-1zM942 720h3v2h-3z"/><path class="b" d="M945 683h1v38h-1zM944 698h3v22h-3z"/><path class="B" d="M945 699h1v20h-1z"/><path class="r" d="M948 687h1v18h-1zM947 696h3v7h-3z"/><path class="R" d="M948 697h1v5h-1z"/><path class="r" d="M951 700h1v16h-1zM950 701h3v14h-3z"/><path class="R" d="M951 702h1v12h-1z"/><path class="r" d="M953 700h1v17h-1zM952 701h3v15h-3z"/><path class="R" d="M953 702h1v13h-1z"/><path class="b" d="M956 705h1v16h-1zM955 705h3v12h-3z"/><path class="B" d="M956 706h1v10h-1z"/><path class="b" d="M959 694h1v12h-1zM958 700h3v5h-3z"/><path class="B" d="M959 701h1v3h-1z"/><path class="r" d="M961 699h1v34h-1zM960 700h3v18h-3z"/><path class="R" d="M961 701h1v16h-1z"/><path class="b" d="M964 698h1v27h-1zM963 711h3v6h-3z"/><path class="B" d="M964 712h1v4h-1z"/><path class="r" d="M967 710h1v54h-1zM966 711h3v44h-3z"/><path class="R" d="M967 712h1v42h-1z"/><path class="b" d="M969 731h1v40h-1zM968 739h3v15h-3z"/><path class="B" d="M969 740h1v13h-1z"/><path class="r" d="M972 733h1v59h-1zM971 739h3v36h-3z"/><path class="R" d="M972 740h1v34h-1z"/><path class="r" d="M975 771h1v39h-1zM974 775h3v13h-3z"/><path class="R" d="M975 776h1v11h-1z"/><path class="b" d="M977 744h1v59h-1zM976 752h3v36h-3z"/><path class="B" d="M977 753h1v34h-1z"/><path class="r" d="M980 747h1v56h-1zM979 752h3v8h-3z"/><path class="R" d="M980 753h1v6h-1z"/><path class="b" d="M983 717h1v45h-1zM982 721h3v39h-3z"/><path class="B" d="M983 722h1v37h-1z"/><path class="r" d="M985 718h1v25h-1zM984 720h3v22h-3z"/><path class="R" d="M985 721h1v20h-1z"/><path class="b" d="M988 722h1v30h-1zM987 726h3v16h-3z"/><path class="B" d="M988 727h1v14h-1z"/><path class="b" d="M991 691h1v36h-1zM990 700h3v26h-3z"/><path class="B" d="M991 701h1v24h-1z"/><path class="r" d="M993 695h1v23h-1zM992 700h3v10h-3z"/><path class="R" d="M993 701h1v8h-1z"/><path class="b" d="M996 699h1v16h-1zM995 700h3v8h-3z"/><path class="B" d="M996 701h1v6h-1z"/><path class="b" d="M999 689h1v13h-1zM998 690h3v11h-3z"/><path class="B" d="M999 691h1v9h-1z"/><path class="r" d="M1001 689h1v12h-1zM1000 690h3v10h-3z"/><path class="R" d="M1001 691h1v8h-1z"/><path class="r" d="M1004 692h1v11h-1zM1003 700h3v2h-3z"/><path class="r" d="M1007 699h1v26h-1zM1006 705h3v4h-3z"/><path class="R" d="M1007 706h1v2h-1z"/><path class="r" d="M1009 696h1v19h-1zM1008 708h3v6h-3z"/><path class="R" d="M1009 709h1v4h-1z"/><path class="b" d="M1012 705h1v14h-1zM1011 709h3v4h-3z"/><path class="B" d="M1012 710h1v2h-1z"/><path class="r" d="M1015 705h1v9h-1zM1014 710h3v3h-3z"/><path class="R" d="M1015 711h1v1h-1z"/><path class="b" d="M1017 702h1v19h-1zM1016 705h3v9h-3z"/><path class="B" d="M1017 706h1v7h-1z"/><path class="b" d="M1020 675h1v27h-1zM1019 692h3v4h-3z"/><path class="B" d="M1020 693h1v2h-1z"/><path class="b" d="M1023 604h1v95h-1zM1022 605h3v88h-3z"/><path class="B" d="M1023 606h1v86h-1z"/><path class="r" d="M1026 593h1v36h-1zM1025 600h3v18h-3z"/><path class="R" d="M1026 601h1v16h-1z"/><path class="b" d="M1028 594h1v36h-1zM1027 600h3v18h-3z"/><path class="B" d="M1028 601h1v16h-1z"/><path class="r" d="M1031 598h1v38h-1zM1030 600h3v19h-3z"/><path class="R" d="M1031 601h1v17h-1z"/><path class="b" d="M1034 611h1v21h-1zM1033 615h3v4h-3z"/><path class="B" d="M1034 616h1v2h-1z"/><path class="b" d="M1036 586h1v34h-1zM1035 602h3v13h-3z"/><path class="B" d="M1036 603h1v11h-1z"/><path class="b" d="M1039 583h1v25h-1zM1038 595h3v7h-3z"/><path class="B" d="M1039 596h1v5h-1z"/><path class="r" d="M1042 583h1v24h-1zM1041 595h3v11h-3z"/><path class="R" d="M1042 596h1v9h-1z"/><path class="r" d="M1044 589h1v32h-1zM1043 605h3v13h-3z"/><path class="R" d="M1044 606h1v11h-1z"/><path class="r" d="M1047 614h1v14h-1zM1046 616h3v3h-3z"/><path class="R" d="M1047 617h1v1h-1z"/><path class="b" d="M1050 607h1v19h-1zM1049 608h3v9h-3z"/><path class="B" d="M1050 609h1v7h-1z"/><path class="r" d="M1052 607h1v17h-1zM1051 608h3v12h-3z"/><path class="R" d="M1052 609h1v10h-1z"/><path class="r" d="M1055 610h1v22h-1zM1054 621h3v9h-3z"/><path class="R" d="M1055 622h1v7h-1z"/><path class="r" d="M1058 622h1v13h-1zM1057 629h3v4h-3z"/><path class="R" d="M1058 630h1v2h-1z"/><path class="b" d="M1060 629h1v6h-1zM1059 630h3v2h-3z"/><path class="b" d="M1063 628h1v7h-1zM1062 630h3v1h-3z"/><path class="r" d="M1066 629h1v7h-1zM1065 630h3v5h-3z"/><path class="R" d="M1066 631h1v3h-1z"/><path class="r" d="M1068 633h1v22h-1zM1067 634h3v8h-3z"/><path class="R" d="M1068 635h1v6h-1z"/><path class="b" d="M1071 625h1v21h-1zM1070 632h3v11h-3z"/><path class="B" d="M1071 633h1v9h-1z"/><path class="b" d="M1074 624h1v12h-1zM1073 625h3v5h-3z"/><path class="B" d="M1074 626h1v3h-1z"/><path class="b" d="M1076 620h1v7h-1zM1075 622h3v4h-3z"/><path class="B" d="M1076 623h1v2h-1z"/><path class="b" d="M1079 620h1v5h-1zM1078 621h3v3h-3z"/><path class="B" d="M1079 622h1v1h-1z"/><path class="r" d="M1082 618h1v6h-1zM1081 619h3v4h-3z"/><path class="R" d="M1082 620h1v2h-1z"/><path class="r" d="M1084 610h1v25h-1zM1083 619h3v9h-3z"/><path class="R" d="M1084 620h1v7h-1z"/><path class="b" d="M1087 581h1v56h-1zM1086 586h3v42h-3z"/><path class="B" d="M1087 587h1v40h-1z"/><path class="b" d="M1090 548h1v39h-1zM1089 554h3v32h-3z"/><path class="B" d="M1090 555h1v30h-1z"/><path class="b" d="M1092 529h1v32h-1zM1091 537h3v17h-3z"/><path class="B" d="M1092 538h1v15h-1z"/><path class="r" d="M1095 514h1v31h-1zM1094 537h3v1h-3z"/><path class="b" d="M1098 532h1v13h-1zM1097 534h3v4h-3z"/><path class="B" d="M1098 535h1v2h-1z"/><path class="b" d="M1100 529h1v13h-1zM1099 530h3v4h-3z"/><path class="B" d="M1100 531h1v2h-1z"/><path class="r" d="M1103 518h1v21h-1zM1102 530h3v8h-3z"/><path class="R" d="M1103 531h1v6h-1z"/><path class="r" d="M1106 533h1v47h-1zM1105 538h3v15h-3z"/><path class="R" d="M1106 539h1v13h-1z"/><path class="b" d="M1108 534h1v38h-1zM1107 543h3v10h-3z"/><path class="B" d="M1108 544h1v8h-1z"/><path class="b" d="M1111 534h1v11h-1zM1110 539h3v5h-3z"/><path class="B" d="M1111 540h1v3h-1z"/><path class="r" d="M1114 538h1v11h-1zM1113 539h3v9h-3z"/><path class="R" d="M1114 540h1v7h-1z"/><path class="r" d="M1116 547h1v20h-1zM1115 548h3v14h-3z"/><path class="R" d="M1116 549h1v12h-1z"/><path class="r" d="M1119 555h1v12h-1zM1118 561h3v1h-3z"/><path class="r" d="M1122 560h1v70h-1zM1121 566h3v34h-3z"/><path class="R" d="M1122 567h1v32h-1z"/><path class="r" d="M1125 590h1v19h-1zM1124 599h3v4h-3z"/><path class="R" d="M1125 600h1v2h-1z"/><path class="r" d="M1127 593h1v30h-1zM1126 608h3v12h-3z"/><path class="R" d="M1127 609h1v10h-1z"/><path class="r" d="M1130 618h1v12h-1zM1129 619h3v5h-3z"/><path class="R" d="M1130 620h1v3h-1z"/><path class="b" d="M1133 606h1v19h-1zM1132 607h3v15h-3z"/><path class="B" d="M1133 608h1v13h-1z"/><path class="b" d="M1135 594h1v14h-1zM1134 600h3v7h-3z"/><path class="B" d="M1135 601h1v5h-1z"/><path class="b" d="M1138 571h1v31h-1zM1137 580h3v22h-3z"/><path class="B" d="M1138 581h1v20h-1z"/><path class="b" d="M1141 570h1v11h-1zM1140 574h3v5h-3z"/><path class="B" d="M1141 575h1v3h-1z"/><path class="r" d="M1143 574h1v17h-1zM1142 575h3v15h-3z"/><path class="R" d="M1143 576h1v13h-1z"/><path class="r" d="M1146 581h1v14h-1zM1145 588h3v5h-3z"/><path class="R" d="M1146 589h1v3h-1z"/><path class="r" d="M1149 575h1v37h-1zM1148 593h3v12h-3z"/><path class="R" d="M1149 594h1v10h-1z"/><path class="b" d="M1151 525h1v81h-1zM1150 531h3v74h-3z"/><path class="B" d="M1151 532h1v72h-1z"/><path class="b" d="M1154 507h1v31h-1zM1153 521h3v10h-3z"/><path class="B" d="M1154 522h1v8h-1z"/><path class="r" d="M1157 520h1v56h-1zM1156 521h3v48h-3z"/><path class="R" d="M1157 522h1v46h-1z"/><path class="b" d="M1159 529h1v42h-1zM1158 540h3v30h-3z"/><path class="B" d="M1159 541h1v28h-1z"/><path class="r" d="M1162 530h1v23h-1zM1161 540h3v8h-3z"/><path class="R" d="M1162 541h1v6h-1z"/><path class="r" d="M1165 541h1v63h-1zM1164 548h3v25h-3z"/><path class="R" d="M1165 549h1v23h-1z"/><path class="r" d="M1167 572h1v26h-1zM1166 573h3v19h-3z"/><path class="R" d="M1167 574h1v17h-1z"/><path class="b" d="M1170 553h1v39h-1zM1169 566h3v26h-3z"/><path class="B" d="M1170 567h1v24h-1z"/><path class="b" d="M1173 543h1v31h-1zM1172 552h3v14h-3z"/><path class="B" d="M1173 553h1v12h-1z"/><path class="r" d="M1175 549h1v21h-1zM1174 552h3v12h-3z"/><path class="R" d="M1175 553h1v10h-1z"/><path class="b" d="M1178 555h1v15h-1zM1177 560h3v4h-3z"/><path class="B" d="M1178 561h1v2h-1z"/><path class="r" d="M1181 558h1v22h-1zM1180 559h3v9h-3z"/><path class="R" d="M1181 560h1v7h-1z"/><path class="r" d="M1183 562h1v13h-1zM1182 568h3v3h-3z"/><path class="R" d="M1183 569h1v1h-1z"/><path class="b" d="M1186 572h1v15h-1zM1185 573h3v2h-3z"/><path class="b" d="M1189 572h1v6h-1zM1188 572h3v2h-3z"/><path class="b" d="M1191 555h1v18h-1zM1190 558h3v14h-3z"/><path class="B" d="M1191 559h1v12h-1z"/><path class="r" d="M1194 558h1v8h-1zM1193 559h3v6h-3z"/><path class="R" d="M1194 560h1v4h-1z"/><path class="r" d="M1197 566h1v10h-1zM1196 566h3v9h-3z"/><path class="R" d="M1197 567h1v7h-1z"/><path class="r" d="M1199 574h1v18h-1zM1198 575h3v12h-3z"/><path class="R" d="M1199 576h1v10h-1z"/><path class="r" d="M1202 578h1v17h-1zM1201 588h3v6h-3z"/><path class="R" d="M1202 589h1v4h-1z"/><path class="b" d="M1205 588h1v11h-1zM1204 588h3v7h-3z"/><path class="B" d="M1205 589h1v5h-1z"/><path class="r" d="M1207 584h1v10h-1zM1206 589h3v5h-3z"/><path class="R" d="M1207 590h1v3h-1z"/><path class="b" d="M1210 580h1v18h-1zM1209 581h3v10h-3z"/><path class="B" d="M1210 582h1v8h-1z"/><path class="b" d="M1213 569h1v15h-1zM1212 576h3v7h-3z"/><path class="B" d="M1213 577h1v5h-1z"/><path class="b" d="M1216 535h1v47h-1zM1215 548h3v28h-3z"/><path class="B" d="M1216 549h1v26h-1z"/><path class="r" d="M1218 541h1v56h-1zM1217 548h3v1h-3z"/><path class="r" d="M1221 548h1v22h-1zM1220 549h3v20h-3z"/><path class="R" d="M1221 550h1v18h-1z"/><path class="r" d="M1224 568h1v18h-1zM1223 570h3v5h-3z"/><path class="R" d="M1224 571h1v3h-1z"/><path class="b" d="M1226 561h1v20h-1zM1225 562h3v13h-3z"/><path class="B" d="M1226 563h1v11h-1z"/><path class="r" d="M1229 554h1v11h-1zM1228 562h3v2h-3z"/><path class="r" d="M1232 554h1v28h-1zM1231 563h3v2h-3z"/><path class="b" d="M1234 536h1v32h-1zM1233 558h3v7h-3z"/><path class="B" d="M1234 559h1v5h-1z"/><path class="r" d="M1237 558h1v33h-1zM1236 558h3v25h-3z"/><path class="R" d="M1237 559h1v23h-1z"/><path class="b" d="M1240 570h1v18h-1zM1239 580h3v3h-3z"/><path class="B" d="M1240 581h1v1h-1z"/><path class="r" d="M1242 575h1v12h-1zM1241 580h3v2h-3z"/><path class="b" d="M1245 572h1v11h-1zM1244 578h3v4h-3z"/><path class="B" d="M1245 579h1v2h-1z"/><path class="r" d="M1248 574h1v17h-1zM1247 578h3v7h-3z"/><path class="R" d="M1248 579h1v5h-1z"/><path class="b" d="M1250 581h1v5h-1zM1249 584h3v1h-3z"/><path class="b" d="M1253 581h1v4h-1zM1252 582h3v2h-3z"/><path class="r" d="M1256 580h1v5h-1zM1255 581h3v3h-3z"/><path class="R" d="M1256 582h1v1h-1z"/><path class="b" d="M1258 574h1v13h-1zM1257 583h3v2h-3z"/><path class="b" d="M1261 564h1v24h-1zM1260 565h3v20h-3z"/><path class="B" d="M1261 566h1v18h-1z"/><path class="r" d="M1264 554h1v27h-1zM1263 563h3v9h-3z"/><path class="R" d="M1264 564h1v7h-1z"/><path class="b" d="M1266 561h1v19h-1zM1265 567h3v6h-3z"/><path class="B" d="M1266 568h1v4h-1z"/><path class="r" d="M1269 561h1v11h-1zM1268 565h3v1h-3z"/><path class="r" d="M1272 564h1v6h-1zM1271 565h3v3h-3z"/><path class="R" d="M1272 566h1v1h-1z"/><path class="b" d="M1274 554h1v15h-1zM1273 560h3v8h-3z"/><path class="B" d="M1274 561h1v6h-1z"/><path class="r" d="M1277 552h1v20h-1zM1276 561h3v8h-3z"/><path class="R" d="M1277 562h1v6h-1z"/><path class="b" d="M1280 513h1v57h-1zM1279 524h3v45h-3z"/><path class="B" d="M1280 525h1v43h-1z"/><path class="r" d="M1282 501h1v87h-1zM1281 522h3v46h-3z"/><path class="R" d="M1282 523h1v44h-1z"/><path class="b" d="M1285 548h1v34h-1zM1284 549h3v19h-3z"/><path class="B" d="M1285 550h1v17h-1z"/><path class="r" d="M1288 542h1v22h-1zM1287 551h3v2h-3z"/><path class="r" d="M1290 548h1v10h-1zM1289 552h3v6h-3z"/><path class="R" d="M1290 553h1v4h-1z"/><path class="r" d="M1293 552h1v25h-1zM1292 557h3v13h-3z"/><path class="R" d="M1293 558h1v11h-1z"/><path class="r" d="M1296 565h1v37h-1zM1295 571h3v4h-3z"/><path class="R" d="M1296 572h1v2h-1z"/><path class="b" d="M1298 548h1v50h-1zM1297 555h3v20h-3z"/><path class="B" d="M1298 556h1v18h-1z"/><path class="b" d="M1301 542h1v18h-1zM1300 546h3v9h-3z"/><path class="B" d="M1301 547h1v7h-1z"/><path class="r" d="M1304 543h1v10h-1zM1303 546h3v6h-3z"/><path class="R" d="M1304 547h1v4h-1z"/><path class="b" d="M1306 548h1v14h-1zM1305 548h3v4h-3z"/><path class="B" d="M1306 549h1v2h-1z"/><path class="r" d="M1309 545h1v8h-1zM1308 548h3v4h-3z"/><path class="R" d="M1309 549h1v2h-1z"/><path class="b" d="M1312 543h1v15h-1zM1311 547h3v5h-3z"/><path class="B" d="M1312 548h1v3h-1z"/><path class="b" d="M1315 535h1v15h-1zM1314 540h3v3h-3z"/><path class="B" d="M1315 541h1v1h-1z"/></g>
<ellipse cx="27" cy="65.3" rx="7.95" ry="7.6" fill="#191970"/><ellipse cx="89.2" cy="117.5" rx="7.95" ry="7.6" fill="#191970"/><ellipse cx="158.7" cy="105.3" rx="7.95" ry="7.6" fill="#191970"/><ellipse cx="172" cy="98.3" rx="7.95" ry="7.6" fill="#191970"/><ellipse cx="195.8" cy="102.5" rx="7.95" ry="7.6" fill="#191970"/><ellipse cx="243.8" cy="202.5" rx="7.95" ry="7.6" fill="#191970"/><ellipse cx="397" cy="220.5" rx="7.95" ry="7.6" fill="#191970"/><ellipse cx="375" cy="281.3" rx="7.95" ry="7.6" fill="#191970"/><ellipse cx="329.8" cy="310.3" rx="7.95" ry="7.6" fill="#191970"/><ellipse cx="318.7" cy="343.3" rx="7.95" ry="7.6" fill="#191970"/><ellipse cx="469.2" cy="232.5" rx="7.95" ry="7.6" fill="#191970"/><ellipse cx="529.7" cy="278.3" rx="7.95" ry="7.6" fill="#191970"/><ellipse cx="607.8" cy="252.5" rx="7.95" ry="7.6" fill="#191970"/><ellipse cx="725.8" cy="541.3" rx="7.95" ry="7.6" fill="#191970"/><ellipse cx="752.8" cy="538.3" rx="7.95" ry="7.6" fill="#191970"/><ellipse cx="773.7" cy="507.5" rx="7.95" ry="7.6" fill="#191970"/><ellipse cx="802.5" cy="511.3" rx="7.95" ry="7.6" fill="#191970"/><ellipse cx="814.2" cy="514.5" rx="7.95" ry="7.6" fill="#191970"/><ellipse cx="835.8" cy="522.2" rx="7.95" ry="7.6" fill="#191970"/><ellipse cx="907.8" cy="700.3" rx="7.95" ry="7.6" fill="#191970"/><ellipse cx="958.7" cy="680.8" rx="7.95" ry="7.6" fill="#191970"/><ellipse cx="1043.8" cy="575.3" rx="7.95" ry="7.6" fill="#191970"/><ellipse cx="1114.2" cy="526.3" rx="7.95" ry="7.6" fill="#191970"/><ellipse cx="1172.8" cy="530.5" rx="7.95" ry="7.6" fill="#191970"/><ellipse cx="1233.7" cy="524.5" rx="7.95" ry="7.6" fill="#191970"/><ellipse cx="1289.7" cy="534.2" rx="7.95" ry="7.6" fill="#191970"/><ellipse cx="10.8" cy="134.2" rx="7.95" ry="7.6" fill="#b01a22"/><ellipse cx="62" cy="188.3" rx="7.95" ry="7.6" fill="#b01a22"/><ellipse cx="133.8" cy="229.2" rx="7.95" ry="7.6" fill="#b01a22"/><ellipse cx="147.9" cy="207.5" rx="7.95" ry="7.6" fill="#b01a22"/><ellipse cx="225" cy="268.3" rx="7.95" ry="7.6" fill="#b01a22"/><ellipse cx="281.7" cy="449.2" rx="7.95" ry="7.6" fill="#b01a22"/><ellipse cx="342.8" cy="385.3" rx="7.95" ry="7.6" fill="#b01a22"/><ellipse cx="407" cy="399.5" rx="7.95" ry="7.6" fill="#b01a22"/><ellipse cx="520" cy="348.3" rx="7.95" ry="7.6" fill="#b01a22"/><ellipse cx="560" cy="368.3" rx="7.95" ry="7.6" fill="#b01a22"/><ellipse cx="588.8" cy="390.3" rx="7.95" ry="7.6" fill="#b01a22"/><ellipse cx="671.7" cy="578.3" rx="7.95" ry="7.6" fill="#b01a22"/><ellipse cx="698.8" cy="655.3" rx="7.95" ry="7.6" fill="#b01a22"/><ellipse cx="765.8" cy="584.5" rx="7.95" ry="7.6" fill="#b01a22"/><ellipse cx="790" cy="617.5" rx="7.95" ry="7.6" fill="#b01a22"/><ellipse cx="865" cy="796.3" rx="7.95" ry="7.6" fill="#b01a22"/><ellipse cx="917.5" cy="742.5" rx="7.95" ry="7.6" fill="#b01a22"/><ellipse cx="928.7" cy="750.5" rx="7.95" ry="7.6" fill="#b01a22"/><ellipse cx="979.7" cy="818.3" rx="7.95" ry="7.6" fill="#b01a22"/><ellipse cx="1087" cy="649.5" rx="7.95" ry="7.6" fill="#b01a22"/><ellipse cx="1148.8" cy="626.3" rx="7.95" ry="7.6" fill="#b01a22"/><ellipse cx="1209.8" cy="611.3" rx="7.95" ry="7.6" fill="#b01a22"/><ellipse cx="1241.7" cy="597.5" rx="7.95" ry="7.6" fill="#b01a22"/><ellipse cx="1260.8" cy="598.3" rx="7.95" ry="7.6" fill="#b01a22"/><ellipse cx="1284.7" cy="594.5" rx="7.95" ry="7.6" fill="#b01a22"/><ellipse cx="1297.8" cy="609.3" rx="7.95" ry="7.6" fill="#b01a22"/>
<path d="M0 870.5H1356M1355.5 29V871" stroke="#999" fill="none"/><path d="M43.5 871V875M108.5 871V875M172.5 871V875M236.5 871V875M300.5 871V875M362.5 871V875M426.5 871V875M490.5 871V875M555.5 871V875M619.5 871V875M680.5 871V875M745.5 871V875M809.5 871V875M873.5 871V875M937.5 871V875M999.5 871V875M1063.5 871V875M1127.5 871V875M1191.5 871V875M1256.5 871V875M1317.5 871V875M1356 154.5H1360M1356 351.5H1360M1356 548.5H1360M1356 744.5H1360" stroke="#999" fill="none"/></svg>
<div id="hdr">
<svg width="20" height="27" style="position:absolute;left:0;top:0"><path d="M5.5 11V22M13.5 6V22" stroke-width="1" fill="none" stroke="#b22"/><path d="M13.5 6V22" stroke="#1a9a1a" fill="none"/><rect x="2.5" y="13.5" width="6" height="6" fill="#f88" stroke="#b22222"/><rect x="10.5" y="9.5" width="6" height="9" fill="#6e6" stroke="#1a9a1a"/></svg>
<span style="left:22px;letter-spacing:0.52px">Germany 30 Cash (€1)</span><span style="left:251px;letter-spacing:0.33px">1 hour</span><span style="left:330px;letter-spacing:1.1px">12,407.5 (+0.35%)</span><span style="left:523px;letter-spacing:0.75px">24-Aug-2018</span><span style="right:1px;letter-spacing:0.52px">IT-Finance.com</span>
</div>
<div id="price"><span>Price</span></div>
<div class="xl" style="left:13px">30</div><div class="xl" style="left:78px">31</div><div class="xl bold" style="left:142px">Aug</div><div class="xl" style="left:206px">02</div><div class="xl" style="left:270px">03</div><div class="xl" style="left:332px">06</div><div class="xl" style="left:396px">07</div><div class="xl" style="left:460px">08</div><div class="xl" style="left:525px">09</div><div class="xl" style="left:589px">10</div><div class="xl" style="left:650px">13</div><div class="xl" style="left:715px">14</div><div class="xl" style="left:779px">15</div><div class="xl" style="left:843px">16</div><div class="xl" style="left:907px">17</div><div class="xl" style="left:969px">20</div><div class="xl" style="left:1033px">21</div><div class="xl" style="left:1097px">22</div><div class="xl" style="left:1161px">23</div><div class="xl" style="left:1226px">24</div><div class="xl" style="left:1287px">27</div>
<div class="yl" style="top:143px">12,800</div><div class="yl" style="top:340px">12,600</div><div class="yl" style="top:537px">12,400</div><div class="yl" style="top:733px">12,200</div>
<div style="position:absolute;left:1356px;top:540px;width:4px;height:1px;background:#222"></div>
<div id="cur"><span>12,407.5</span></div>
<div id="copy">© IT-Finance.com</div>
<div id="frame"></div>
</body></html>
